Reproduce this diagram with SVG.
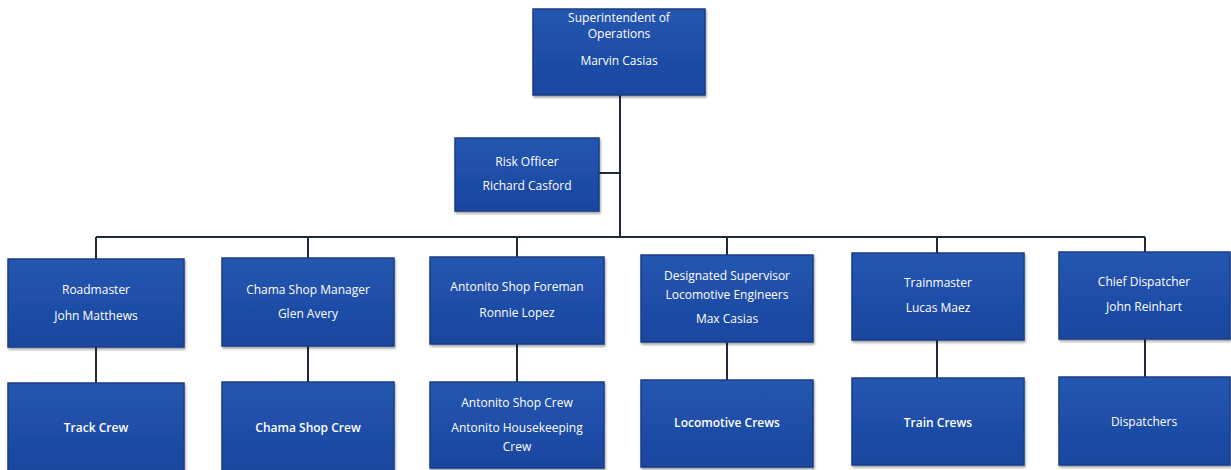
<svg xmlns="http://www.w3.org/2000/svg" width="1231" height="470" viewBox="0 0 1231 470">
<defs>
<linearGradient id="g" x1="0" y1="0" x2="0" y2="1">
<stop offset="0" stop-color="#2556b0"/>
<stop offset="1" stop-color="#1a46a0"/>
</linearGradient>
<filter id="sh" x="-5%" y="-5%" width="115%" height="120%">
<feDropShadow dx="1" dy="2" stdDeviation="1.2" flood-color="#000" flood-opacity="0.35"/>
</filter>
</defs>
<style>
.box{fill:url(#g);stroke:#173c86;stroke-width:1.5;filter:url(#sh)}
text{font-family:"Open Sans","Liberation Sans",sans-serif;font-size:12px;fill:#ffffff;text-anchor:middle}
.b{font-weight:600}
.c{fill:none;stroke:#1d2a3c;stroke-width:2}
</style>
<rect width="1231" height="470" fill="#ffffff"/>
<g id="connectors">
<path class="c" d="M620 95 V237"/>
<path class="c" d="M599 173 H620"/>
<path class="c" d="M96 237 H1145"/>
<path class="c" d="M96 237 V259 M308 237 V258 M517 237 V257 M727 237 V255 M937 237 V253 M1145 237 V252"/>
<path class="c" d="M96 347 V383 M308 346 V382 M517 344 V382 M727 342 V380 M937 340 V378 M1145 339 V377"/>
</g>
<g id="superintendent">
<rect class="box" x="533" y="9" width="172" height="86"/>
<text x="619" y="22">Superintendent of</text>
<text x="619" y="38">Operations</text>
<text x="619" y="65">Marvin Casias</text>
</g>
<g id="risk-officer">
<rect class="box" x="455" y="138" width="144" height="73"/>
<text x="527" y="166">Risk Officer</text>
<text x="527" y="190">Richard Casford</text>
</g>
<g id="roadmaster">
<rect class="box" x="8" y="259" width="176" height="88"/>
<text x="96" y="294">Roadmaster</text>
<text x="96" y="320">John Matthews</text>
</g>
<g id="chama-manager">
<rect class="box" x="222" y="258" width="172" height="88"/>
<text x="308" y="294">Chama Shop Manager</text>
<text x="308" y="318">Glen Avery</text>
</g>
<g id="antonito-foreman">
<rect class="box" x="430" y="257" width="174" height="87"/>
<text x="517" y="291">Antonito Shop Foreman</text>
<text x="517" y="317">Ronnie Lopez</text>
</g>
<g id="designated-supervisor">
<rect class="box" x="641" y="255" width="172" height="87"/>
<text x="727" y="280">Designated Supervisor</text>
<text x="727" y="299">Locomotive Engineers</text>
<text x="727" y="323">Max Casias</text>
</g>
<g id="trainmaster">
<rect class="box" x="852" y="253" width="172" height="87"/>
<text x="938" y="287">Trainmaster</text>
<text x="938" y="312">Lucas Maez</text>
</g>
<g id="chief-dispatcher">
<rect class="box" x="1059" y="252" width="171" height="87"/>
<text x="1144" y="286">Chief Dispatcher</text>
<text x="1144" y="311">John Reinhart</text>
</g>
<g id="track-crew">
<rect class="box" x="8" y="383" width="176" height="90"/>
<text class="b" x="96" y="432">Track Crew</text>
</g>
<g id="chama-crew">
<rect class="box" x="222" y="382" width="172" height="90"/>
<text class="b" x="308" y="432">Chama Shop Crew</text>
</g>
<g id="antonito-crew">
<rect class="box" x="430" y="382" width="174" height="86"/>
<text x="517" y="407">Antonito Shop Crew</text>
<text x="517" y="432">Antonito Housekeeping</text>
<text x="517" y="451">Crew</text>
</g>
<g id="locomotive-crews">
<rect class="box" x="641" y="380" width="172" height="87"/>
<text class="b" x="727" y="427">Locomotive Crews</text>
</g>
<g id="train-crews">
<rect class="box" x="852" y="378" width="172" height="87"/>
<text class="b" x="938" y="427">Train Crews</text>
</g>
<g id="dispatchers">
<rect class="box" x="1059" y="377" width="171" height="88"/>
<text x="1144" y="426">Dispatchers</text>
</g>
</svg>
